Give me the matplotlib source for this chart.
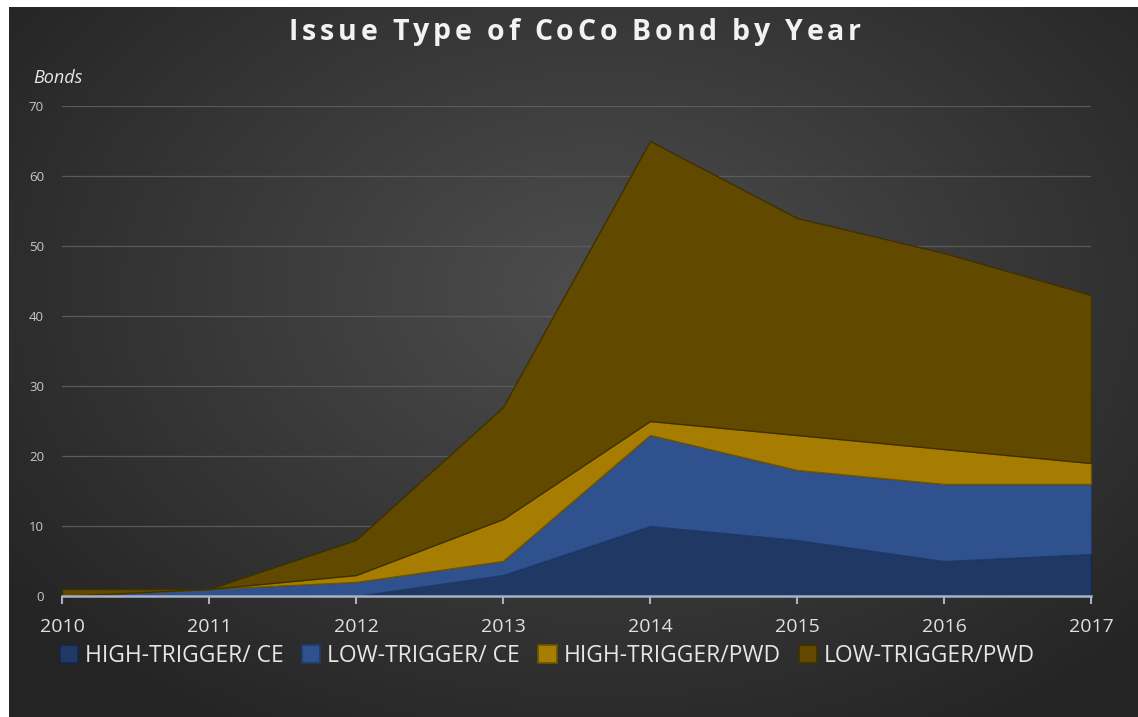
import numpy as np
import matplotlib.pyplot as plt
from matplotlib.patches import Patch
from matplotlib.font_manager import FontProperties

years = [2010, 2011, 2012, 2013, 2014, 2015, 2016, 2017]
high_ce = [0, 0, 0, 3, 10, 8, 5, 6]
low_ce = [0, 1, 2, 2, 13, 10, 11, 10]
high_pwd = [0, 0, 1, 6, 2, 5, 5, 3]
low_pwd = [1, 0, 5, 16, 40, 31, 28, 24]
labels = ['HIGH-TRIGGER/ CE', 'LOW-TRIGGER/ CE', 'HIGH-TRIGGER/PWD', 'LOW-TRIGGER/PWD']
title = 'Issue Type of CoCo Bond by Year'
colors = ['#203864', '#2f528f', '#a67d00', '#614a00']
edges = ['#15264a', '#1f3b6e', '#6e5300', '#3f3000']

plt.rcParams['font.family'] = ['Open Sans', 'DejaVu Sans']

fig = plt.figure(figsize=(11.38, 7.17), dpi=100)
fig.patch.set_facecolor('white')

# dark radial-gradient background
bg = fig.add_axes([9 / 1138, 0, 1 - 9 / 1138, 1 - 7 / 717], zorder=-1)
gx, gy = np.meshgrid(np.linspace(-1, 1, 400), np.linspace(-1, 1, 300))
r = np.sqrt(((gx - 0.05) / 1.0) ** 2 + ((gy + 0.2) / 1.1) ** 2)
shade = 0.305 - 0.16 * np.clip(r, 0, 1.3) / 1.3
img = np.dstack([shade, shade, shade])
bg.imshow(img, aspect='auto', extent=[0, 1, 0, 1], origin='upper')
bg.set_axis_off()

ax = fig.add_axes([62 / 1138, 1 - 596 / 717, (1091 - 62) / 1138, (596 - 106) / 717])
ax.set_facecolor('none')

polys = ax.stackplot(years, high_ce, low_ce, high_pwd, low_pwd, colors=colors,
                     labels=labels, zorder=3)
for p, ec in zip(polys, edges):
    p.set_edgecolor(ec)
    p.set_linewidth(1.0)

ax.set_xlim(2010, 2017)
ax.set_ylim(0, 70)
ax.set_yticks(range(0, 71, 10))
ax.set_xticks(years)
ax.grid(axis='y', color='#5a5a5a', linewidth=0.9, zorder=0)
ax.set_axisbelow(True)
for s in ['top', 'right', 'left']:
    ax.spines[s].set_visible(False)
ax.spines['bottom'].set_color('#a9b1c6')
ax.spines['bottom'].set_linewidth(1.8)
ax.spines['bottom'].set_zorder(5)
ax.tick_params(axis='y', length=0, labelsize=9.5, labelcolor='#c8c8c8', pad=13)
ax.tick_params(axis='x', length=6, width=1.5, color='#a9b1c6', labelsize=14,
               labelcolor='#e0e0e0', pad=10)

# letter-spaced title
prop = FontProperties(family=['Open Sans', 'DejaVu Sans'], weight='bold', size=20.5)
renderer = fig.canvas.get_renderer()
spacing = 3.8  # px between letters
widths = [renderer.get_text_width_height_descent(ch, prop, ismath=False)[0] for ch in title]
total = sum(widths) + spacing * (len(title) - 1)
x = 575 - total / 2
for ch, w in zip(title, widths):
    fig.text(x / 1138, 1 - 32 / 717, ch, ha='left', va='center', fontproperties=prop,
             color='#f2f2f2')
    x += w + spacing

fig.text(33 / 1138, 1 - 78 / 717, 'Bonds', ha='left', va='center', fontsize=13,
         style='italic', color='#e6e6e6')

handles = [Patch(facecolor=c, edgecolor=e, linewidth=1.2) for c, e in zip(colors, edges)]
fig.legend(handles, labels, loc='center', bbox_to_anchor=(0.481, 1 - 656 / 717), ncol=4,
           frameon=False, fontsize=16.5, labelcolor='#e6e6e6', handlelength=0.8,
           handleheight=0.8, handletextpad=0.3, columnspacing=0.8)

fig.savefig('out.png', dpi=100, facecolor=fig.get_facecolor())
